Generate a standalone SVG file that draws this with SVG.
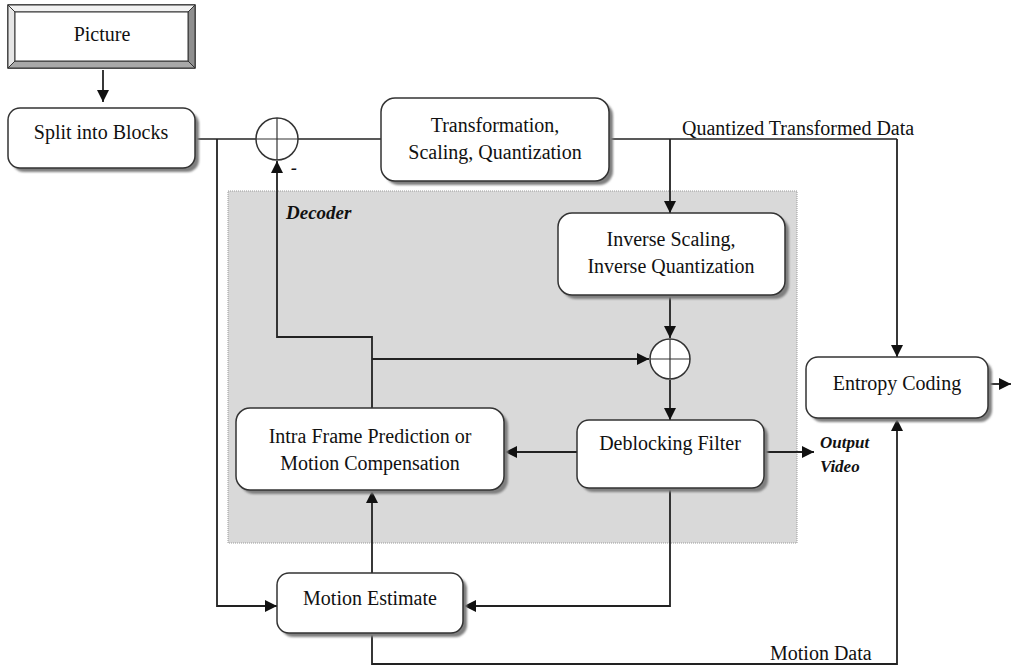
<svg xmlns="http://www.w3.org/2000/svg" width="1011" height="668" viewBox="0 0 1011 668">
  <style>
    .box { fill: #ffffff; stroke: #333333; stroke-width: 1.5; }
    .shadow { fill: #7f7f7f; }
    .lbl { font-family: "Liberation Serif", "Times New Roman", serif; font-size: 20px; fill: #111111; text-anchor: middle; }
    .free { font-family: "Liberation Serif", "Times New Roman", serif; font-size: 20px; fill: #111111; }
    .bi { font-family: "Liberation Serif", "Times New Roman", serif; font-weight: bold; font-style: italic; fill: #111111; }
    .wire { fill: none; stroke: #222222; stroke-width: 1.5; }
    .arrow { fill: none; stroke: #222222; stroke-width: 1.8; marker-end: url(#head); }
  </style>
  <defs>
    <marker id="head" viewBox="0 0 10 10" refX="10" refY="5" markerWidth="12" markerHeight="12" markerUnits="userSpaceOnUse" orient="auto">
      <path d="M0,0 L10,5 L0,10 Z" fill="#111111"/>
    </marker>
    <filter id="soft" x="-10%" y="-10%" width="130%" height="130%">
      <feGaussianBlur stdDeviation="0.8"/>
    </filter>
  </defs>

  <rect width="1011" height="668" fill="#ffffff"/>

  <!-- decoder region -->
  <g id="decoder">
    <rect x="228" y="191" width="569" height="352" fill="#d9d9d9" stroke="#9a9a9a" stroke-width="1" stroke-dasharray="1,1"/>
    <text class="bi" x="286" y="219" font-size="19">Decoder</text>
  </g>

  <!-- connectors -->
  <g id="connectors">
    <!-- picture to split -->
    <line class="arrow" x1="103" y1="70" x2="103" y2="102"/>
    <!-- split to summing node and on to transform -->
    <line class="wire" x1="195" y1="139" x2="256" y2="139"/>
    <line class="wire" x1="298" y1="139" x2="381" y2="139"/>
    <!-- split down to motion estimate -->
    <polyline class="arrow" points="217,139 217,606 277,606"/>
    <!-- transform output: quantized data -->
    <line class="wire" x1="609" y1="139" x2="897" y2="139"/>
    <line class="arrow" x1="897" y1="139" x2="897" y2="357"/>
    <line class="arrow" x1="670" y1="139" x2="670" y2="213"/>
    <!-- inverse to summing node -->
    <line class="arrow" x1="670" y1="295" x2="670" y2="338"/>
    <!-- summing node to deblocking -->
    <line class="arrow" x1="670" y1="380" x2="670" y2="420"/>
    <!-- prediction feedback -->
    <polyline class="arrow" points="372,408 372,337 277,337 277,161"/>
    <line class="arrow" x1="372" y1="359" x2="649" y2="359"/>
    <!-- deblocking to prediction -->
    <line class="arrow" x1="577" y1="452" x2="505" y2="452"/>
    <!-- deblocking to output -->
    <line class="arrow" x1="764" y1="452" x2="814" y2="452"/>
    <!-- deblocking down to motion estimate -->
    <polyline class="arrow" points="670,488 670,606 464,606"/>
    <!-- motion estimate up to prediction -->
    <line class="arrow" x1="372" y1="573" x2="372" y2="491"/>
    <!-- motion data to entropy coding -->
    <polyline class="arrow" points="372,633 372,664 897,664 897,419"/>
    <!-- entropy output -->
    <line class="arrow" x1="988" y1="384" x2="1011" y2="384"/>
  </g>

  <!-- picture source (bevelled) -->
  <g id="picture">
    <rect x="8" y="5" width="187" height="63" fill="#ffffff" stroke="#333333" stroke-width="1.5"/>
    <polygon points="8,5 195,5 188,12 15,12" fill="#f2f2f2" stroke="#333333" stroke-width="1"/>
    <polygon points="8,5 15,12 15,61 8,68" fill="#e6e6e6" stroke="#333333" stroke-width="1"/>
    <polygon points="195,5 195,68 188,61 188,12" fill="#8f8f8f" stroke="#333333" stroke-width="1"/>
    <polygon points="8,68 195,68 188,61 15,61" fill="#a8a8a8" stroke="#333333" stroke-width="1"/>
    <rect x="15" y="12" width="173" height="49" fill="#ffffff" stroke="#333333" stroke-width="1"/>
    <text class="lbl" x="102" y="41" font-size="19">Picture</text>
  </g>

  <g id="split">
    <rect class="shadow" x="12" y="112" width="187" height="60" rx="12" filter="url(#soft)"/>
    <rect class="box" x="8" y="108" width="187" height="60" rx="12"/>
    <text class="lbl" x="101" y="139">Split into Blocks</text>
  </g>

  <g id="sum1">
    <circle cx="277" cy="139" r="21" fill="#ffffff" stroke="#333333" stroke-width="1.5"/>
    <line x1="256" y1="139" x2="298" y2="139" stroke="#333333" stroke-width="1.2"/>
    <line x1="277" y1="118" x2="277" y2="160" stroke="#333333" stroke-width="1.2"/>
    <text class="bi" x="291" y="174" font-size="18">-</text>
  </g>

  <g id="transform">
    <rect class="shadow" x="385" y="102" width="228" height="83" rx="14" filter="url(#soft)"/>
    <rect class="box" x="381" y="98" width="228" height="83" rx="14"/>
    <text class="lbl" x="495" y="132">Transformation,</text>
    <text class="lbl" x="495" y="159">Scaling, Quantization</text>
  </g>

  <text class="free" x="682" y="135">Quantized Transformed Data</text>

  <g id="inverse">
    <rect class="shadow" x="562" y="217" width="227" height="82" rx="14" filter="url(#soft)"/>
    <rect class="box" x="558" y="213" width="227" height="82" rx="14"/>
    <text class="lbl" x="671" y="246">Inverse Scaling,</text>
    <text class="lbl" x="671" y="273">Inverse Quantization</text>
  </g>

  <g id="sum2">
    <circle cx="670" cy="359" r="20" fill="#ffffff" stroke="#333333" stroke-width="1.5"/>
    <line x1="650" y1="359" x2="690" y2="359" stroke="#333333" stroke-width="1.2"/>
    <line x1="670" y1="339" x2="670" y2="379" stroke="#333333" stroke-width="1.2"/>
  </g>

  <g id="prediction">
    <rect class="shadow" x="240" y="412" width="268" height="82" rx="14" filter="url(#soft)"/>
    <rect class="box" x="236" y="408" width="268" height="82" rx="14"/>
    <text class="lbl" x="370" y="443">Intra Frame Prediction or</text>
    <text class="lbl" x="370" y="470">Motion Compensation</text>
  </g>

  <g id="deblocking">
    <rect class="shadow" x="581" y="424" width="187" height="68" rx="12" filter="url(#soft)"/>
    <rect class="box" x="577" y="420" width="187" height="68" rx="12"/>
    <text class="lbl" x="670" y="450" font-size="17">Deblocking Filter</text>
  </g>

  <g id="output">
    <text class="bi" x="820" y="448" font-size="17">Output</text>
    <text class="bi" x="820" y="472" font-size="17">Video</text>
  </g>

  <g id="entropy">
    <rect class="shadow" x="810" y="361" width="182" height="61" rx="12" filter="url(#soft)"/>
    <rect class="box" x="806" y="357" width="182" height="61" rx="12"/>
    <text class="lbl" x="897" y="390">Entropy Coding</text>
  </g>

  <g id="motion">
    <rect class="shadow" x="281" y="577" width="186" height="60" rx="12" filter="url(#soft)"/>
    <rect class="box" x="277" y="573" width="186" height="60" rx="12"/>
    <text class="lbl" x="370" y="605">Motion Estimate</text>
  </g>

  <text class="free" x="770" y="660">Motion Data</text>
</svg>
